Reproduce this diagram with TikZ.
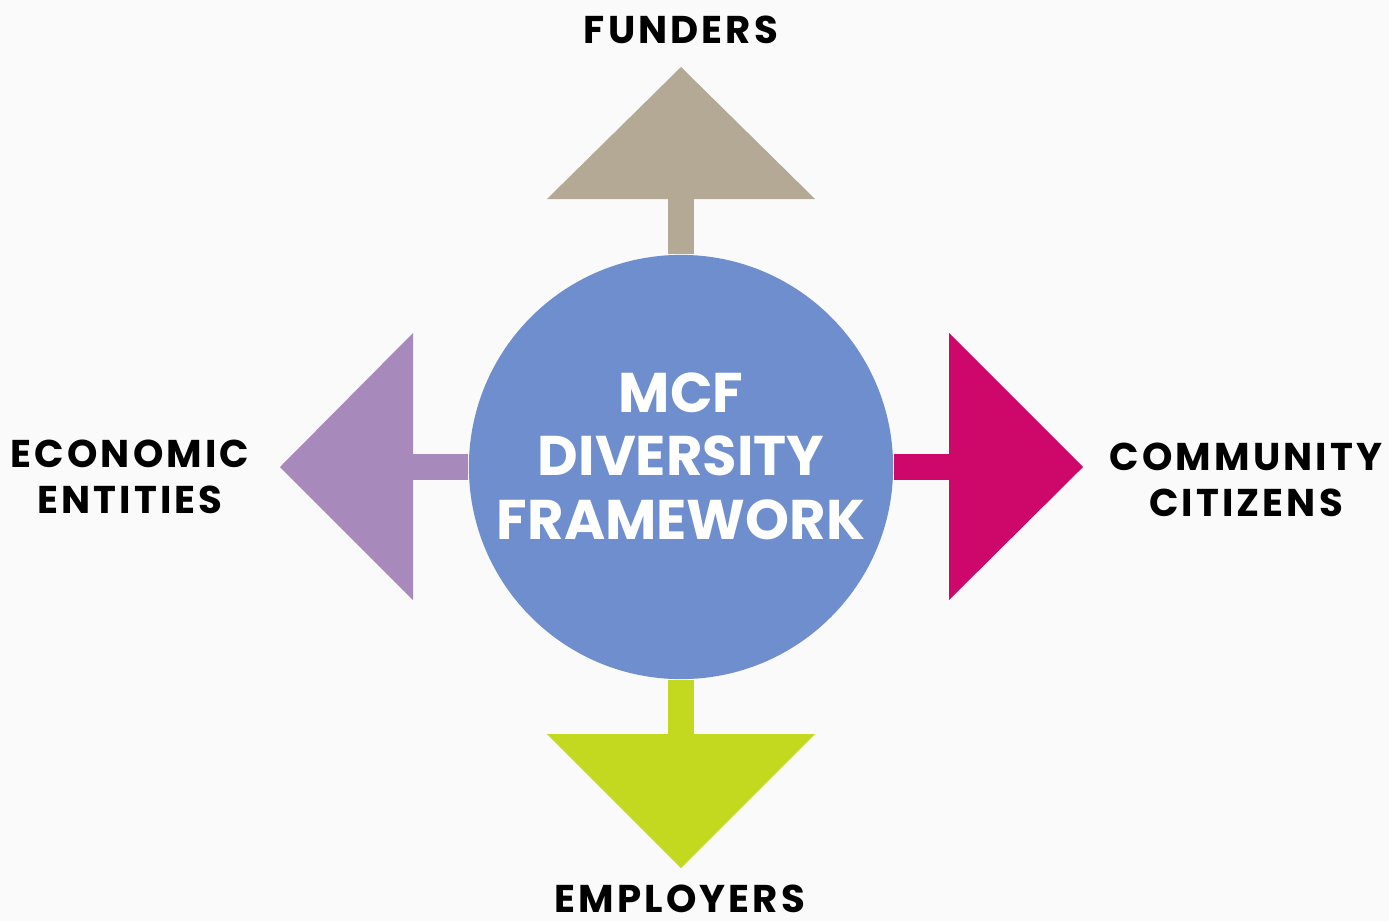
\documentclass[tikz,border=0pt]{standalone}
\usepackage{fontspec}
\setmainfont{Poppins}
\usetikzlibrary{positioning}
\definecolor{bgcol}{RGB}{250,250,250}
\definecolor{hubcol}{RGB}{111,142,206}
\definecolor{tancol}{RGB}{179,169,149}
\definecolor{lilaccol}{RGB}{168,137,188}
\definecolor{pinkcol}{RGB}{206,8,107}
\definecolor{limecol}{RGB}{195,217,31}
\tikzstyle{hub} = [circle, minimum size=4.24cm, inner sep=0, fill=hubcol]
\tikzstyle{hubtext} = [align=center, inner sep=0, text=white, font=\bfseries\fontsize{15.9}{18.1}\selectfont]
\tikzstyle{party} = [align=center, inner sep=0, text=black, font=\bfseries\fontsize{11}{13.1}\selectfont\addfontfeature{LetterSpace=8}]
\tikzstyle{stem} = [line width=0.26cm]

\begin{document}
\begin{tikzpicture}[x=0.01cm, y=-0.01cm]
\fill[bgcol] (0,0) rectangle (1389,921);
\useasboundingbox (0,0) rectangle (1389,921);

\node (mcf) [hub] at (681,467) {};
\node (mcftext) [hubtext] at (681,456) {MCF\\DIVERSITY\\FRAMEWORK};
%
\coordinate (upbase) at (681,199);
\coordinate (downbase) at (681,734);
\coordinate (leftbase) at (413,467);
\coordinate (rightbase) at (949,467);
%
\draw [stem, tancol] (mcf) -- (upbase);
\draw [stem, limecol] (mcf) -- (downbase);
\draw [stem, lilaccol] (mcf) -- (leftbase);
\draw [stem, pinkcol] (mcf) -- (rightbase);
%
\fill [tancol] (547,199) -- (681,67) -- (815,199) -- cycle;
\fill [limecol] (547,734) -- (681,868) -- (815,734) -- cycle;
\fill [lilaccol] (413,333) -- (280,467) -- (413,600) -- cycle;
\fill [pinkcol] (949,333) -- (1083,467) -- (949,600) -- cycle;

\node (funders) [party] at (681,30) {FUNDERS};
\node (employers) [party] at (680,899) {EMPLOYERS};
\node (economic) [party] at (130,477) {ECONOMIC\\ENTITIES};
\node (community) [party] at (1246,480) {COMMUNITY\\CITIZENS};

\end{tikzpicture}
\end{document}
